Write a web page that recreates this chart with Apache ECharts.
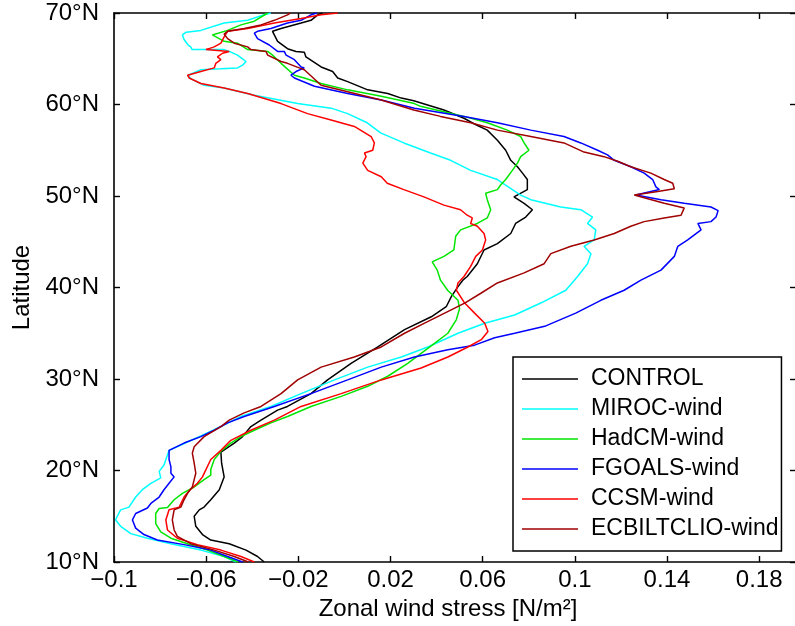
<!DOCTYPE html>
<html>
<head>
<meta charset="utf-8">
<title>Zonal wind stress profiles</title>
<script src="https://cdn.jsdelivr.net/npm/echarts@6.0.0/dist/echarts.min.js"></script>
<style>
html, body { margin: 0; padding: 0; background: #fff; }
#chart { width: 795px; height: 626px; }
</style>
</head>
<body>
<div id="chart"></div>
<script>
// zonal wind stress profiles, points are [stress N/m2, latitude]
const seriesNames = ['CONTROL', 'MIROC-wind', 'HadCM-wind', 'FGOALS-wind', 'CCSM-wind', 'ECBILTCLIO-wind']

const control = [[-0.0348,10],[-0.0377,10.6],[-0.0427,11.3],[-0.050,12.0],[-0.058,12.4],[-0.0616,13.0],[-0.0645,13.9],[-0.0652,15.0],[-0.063,15.7],[-0.0609,16.0],[-0.058,16.8],[-0.0543,17.9],[-0.0522,19.3],[-0.0533,20.8],[-0.0536,22.0],[-0.0478,23.0],[-0.0442,23.7],[-0.0406,24.8],[-0.0362,25.5],[-0.029,26.6],[-0.0247,27.0],[-0.0145,28.4],[-0.0073,29.9],[0.0029,31.7],[0.0145,33.5],[0.0261,35.4],[0.0377,36.8],[0.0442,37.9],[0.0464,39.0],[0.0493,40.1],[0.0514,40.8],[0.0533,41.2],[0.0577,42.6],[0.0606,44.1],[0.0664,44.8],[0.0722,45.9],[0.0743,47.0],[0.0787,47.7],[0.0816,48.5],[0.078,49.2],[0.0736,49.9],[0.0794,50.7],[0.0794,51.8],[0.0773,52.5],[0.0751,53.2],[0.0722,53.9],[0.07,55.0],[0.0664,56.1],[0.062,57.2],[0.0562,57.9],[0.0519,58.5],[0.0432,59.4],[0.0301,60.4],[0.0247,60.7],[0.0188,61.2],[0.0101,61.6],[0.0014,62.5],[-0.0029,62.9],[-0.0051,63.6],[-0.0101,64.1],[-0.0167,65.2],[-0.0174,65.7],[-0.021,65.8],[-0.0247,66.1],[-0.029,66.9],[-0.0312,68.0],[-0.0275,68.3],[-0.0188,68.9],[-0.0145,69.2],[-0.0116,69.8],[-0.0096,70]]

const miroc = [[-0.047,10],[-0.0522,10.6],[-0.0623,11.3],[-0.0753,12.0],[-0.0855,12.6],[-0.0927,13.1],[-0.0971,13.9],[-0.0993,14.6],[-0.0986,15.0],[-0.0971,15.7],[-0.0935,16.0],[-0.0906,17.1],[-0.0877,17.9],[-0.084,18.6],[-0.0797,19.2],[-0.0804,19.9],[-0.0783,20.6],[-0.0768,21.7],[-0.0761,22.2],[-0.07,22.9],[-0.063,23.7],[-0.057,24.4],[-0.0513,25.1],[-0.0449,25.9],[-0.0319,27.0],[-0.0188,28.4],[-0.0043,29.9],[0.0101,31.3],[0.0247,32.4],[0.0362,33.5],[0.0493,35.0],[0.0609,36.1],[0.0739,37.0],[0.0852,38.3],[0.0961,39.7],[0.1012,41.2],[0.1055,42.6],[0.107,43.7],[0.104,44.5],[0.1084,45.2],[0.1091,46.3],[0.1055,47.0],[0.1077,47.7],[0.1026,48.5],[0.0939,48.8],[0.0809,49.6],[0.0765,50.1],[0.0729,50.7],[0.0664,51.8],[0.0548,52.8],[0.0461,53.9],[0.0374,54.7],[0.0258,55.8],[0.0157,56.9],[0.0099,58.0],[0.0014,59.0],[-0.0058,59.6],[-0.0203,60.1],[-0.0391,61.0],[-0.0522,61.8],[-0.0609,62.1],[-0.0665,62.8],[-0.0678,63.2],[-0.0623,63.8],[-0.0539,63.9],[-0.0464,64.0],[-0.0442,64.3],[-0.0427,64.7],[-0.0448,65.1],[-0.0464,65.4],[-0.05,65.8],[-0.0522,66.0],[-0.0609,66.0],[-0.0661,66.0],[-0.0667,66.3],[-0.0678,66.5],[-0.0696,67.1],[-0.0703,67.6],[-0.0687,67.9],[-0.0623,68.1],[-0.0522,68.9],[-0.042,69.2],[-0.0348,69.8],[-0.0319,70]]

const hadcm = [[-0.0461,10],[-0.0522,10.6],[-0.0594,11.3],[-0.0681,12.0],[-0.0753,12.6],[-0.0797,13.3],[-0.0819,14.2],[-0.0819,15.3],[-0.0804,15.85],[-0.0768,15.95],[-0.0739,16.8],[-0.0703,17.5],[-0.0652,18.2],[-0.0609,19.0],[-0.058,19.5],[-0.058,20.1],[-0.0565,21.2],[-0.0536,22.1],[-0.0493,23.0],[-0.0449,23.7],[-0.0391,24.4],[-0.0319,25.2],[-0.0247,25.9],[-0.0145,27.0],[-0.0014,28.1],[0.0101,29.2],[0.0188,30.3],[0.0275,31.7],[0.0333,32.8],[0.0391,33.9],[0.0449,35.0],[0.0486,36.5],[0.05,37.7],[0.0493,38.6],[0.0448,39.7],[0.0417,40.8],[0.0403,41.9],[0.0381,42.8],[0.0432,43.4],[0.0475,44.1],[0.0483,45.6],[0.0504,46.3],[0.0577,47.0],[0.062,47.6],[0.0635,48.5],[0.062,49.6],[0.0613,50.3],[0.0664,50.7],[0.0678,51.2],[0.07,51.8],[0.0729,52.8],[0.0751,53.6],[0.0765,54.3],[0.0801,55.0],[0.078,55.8],[0.0765,56.5],[0.0707,57.2],[0.062,58.0],[0.0519,58.7],[0.033,59.8],[0.0304,60.1],[0.016,60.9],[0.0014,61.6],[-0.0101,62.3],[-0.0174,62.9],[-0.0217,63.2],[-0.0275,64.5],[-0.0312,65.4],[-0.0333,65.8],[-0.042,66.0],[-0.0464,66.7],[-0.0522,66.9],[-0.0573,67.6],[-0.0565,67.7],[-0.0507,68.1],[-0.0449,68.7],[-0.0391,69.1],[-0.0333,70]]

const fgoals = [[-0.0442,10],[-0.0507,10.6],[-0.058,11.3],[-0.0696,11.9],[-0.0812,12.4],[-0.087,13.0],[-0.0906,13.7],[-0.092,14.6],[-0.0906,15.3],[-0.0855,15.9],[-0.084,16.4],[-0.0804,17.1],[-0.0783,17.9],[-0.0761,18.6],[-0.0739,19.3],[-0.0753,19.7],[-0.0753,20.4],[-0.0761,21.2],[-0.0761,22.2],[-0.0696,23.0],[-0.0623,23.7],[-0.0565,24.4],[-0.0507,25.2],[-0.0435,25.9],[-0.0304,27.0],[-0.0145,28.4],[0.0014,29.9],[0.016,31.3],[0.0304,32.4],[0.0449,33.2],[0.0565,33.7],[0.0652,34.5],[0.0739,35.0],[0.0874,35.8],[0.1004,37.2],[0.1113,38.6],[0.1214,39.7],[0.1287,40.8],[0.1374,41.9],[0.1432,43.4],[0.1447,44.5],[0.149,45.2],[0.1548,46.3],[0.1534,47.0],[0.1591,47.2],[0.1613,47.7],[0.1622,48.4],[0.1591,48.8],[0.1475,49.2],[0.1374,49.6],[0.1265,50.1],[0.1367,50.7],[0.1352,51.0],[0.1338,51.8],[0.1301,52.5],[0.1243,53.2],[0.1171,53.9],[0.1142,54.5],[0.1099,55.0],[0.1026,55.8],[0.0953,56.5],[0.0809,57.2],[0.0664,58.0],[0.0519,58.7],[0.0304,59.6],[0.016,60.5],[0.0014,61.2],[-0.013,62.0],[-0.0217,62.9],[-0.0232,63.2],[-0.021,63.6],[-0.0174,64.0],[-0.0188,64.1],[-0.0217,64.9],[-0.0253,65.4],[-0.0261,65.8],[-0.029,65.8],[-0.0326,66.5],[-0.0377,67.2],[-0.0391,67.8],[-0.0377,68.0],[-0.0319,68.3],[-0.0247,68.9],[-0.0188,69.2],[-0.0145,69.8],[-0.0119,70]]

const ccsm = [[-0.0391,10],[-0.0449,10.6],[-0.0536,11.3],[-0.0638,11.9],[-0.0725,12.6],[-0.0768,13.5],[-0.0775,14.6],[-0.0761,15.7],[-0.0717,16.0],[-0.0696,17.1],[-0.067,17.9],[-0.0638,18.6],[-0.0616,19.3],[-0.0601,20.1],[-0.058,21.2],[-0.0536,22.2],[-0.0493,23.3],[-0.0406,24.4],[-0.0304,25.5],[-0.0188,27.0],[-0.0014,28.4],[0.016,29.9],[0.0333,31.2],[0.0449,32.4],[0.0536,33.5],[0.0594,34.3],[0.0623,35.2],[0.0609,36.1],[0.0565,37.2],[0.0522,38.3],[0.0486,39.7],[0.0493,40.5],[0.0519,41.2],[0.0548,42.3],[0.057,43.4],[0.0599,44.1],[0.0613,45.2],[0.0606,45.9],[0.0577,46.7],[0.0548,47.0],[0.0555,47.6],[0.0533,47.9],[0.0504,48.5],[0.0432,49.0],[0.0345,49.9],[0.0258,50.7],[0.0186,51.4],[0.016,52.1],[0.0101,52.8],[0.008,53.6],[0.0094,54.3],[0.0087,54.7],[0.0123,55.0],[0.013,55.8],[0.0116,56.5],[0.0043,57.6],[-0.0058,58.3],[-0.016,59.0],[-0.0275,60.1],[-0.042,61.2],[-0.0522,61.8],[-0.0623,62.3],[-0.0674,62.9],[-0.0681,63.2],[-0.0623,63.6],[-0.0565,64.0],[-0.0558,64.5],[-0.0536,64.9],[-0.0551,65.2],[-0.0529,65.6],[-0.05,65.8],[-0.05,66.0],[-0.0601,66.0],[-0.0565,66.3],[-0.0536,66.7],[-0.0522,67.4],[-0.0507,68.0],[-0.042,68.3],[-0.0304,68.9],[-0.0188,69.4],[-0.0101,69.8],[-0.0029,70]]

const ecbilt = [[-0.0417,10],[-0.0478,10.6],[-0.0565,11.3],[-0.0667,12.0],[-0.0725,12.8],[-0.0739,13.5],[-0.0747,14.6],[-0.0739,15.7],[-0.071,16.0],[-0.0696,16.8],[-0.0681,17.5],[-0.066,18.2],[-0.0652,19.0],[-0.0645,19.7],[-0.0652,20.8],[-0.066,21.9],[-0.0652,22.6],[-0.0609,23.7],[-0.0536,24.8],[-0.05,25.5],[-0.0435,26.3],[-0.0362,27.0],[-0.0275,28.4],[-0.0203,29.9],[-0.0101,31.3],[0.0043,32.4],[0.016,33.5],[0.0261,35.0],[0.0348,36.1],[0.0435,37.2],[0.0522,38.3],[0.0594,39.4],[0.0664,40.5],[0.078,41.6],[0.0867,42.6],[0.0896,43.7],[0.0983,44.5],[0.1084,45.2],[0.1171,45.9],[0.1243,46.7],[0.1301,47.2],[0.1388,47.6],[0.1461,47.9],[0.1475,48.7],[0.1388,49.2],[0.1301,49.8],[0.1258,50.1],[0.136,50.5],[0.1432,50.8],[0.1425,51.4],[0.1388,51.8],[0.133,52.5],[0.1243,53.2],[0.1186,53.8],[0.1127,54.3],[0.104,54.8],[0.0953,55.8],[0.0809,56.5],[0.0664,57.2],[0.0548,58.0],[0.0417,58.7],[0.0301,59.4],[0.016,60.5],[0.0014,61.4],[-0.0101,62.1],[-0.0174,63.8],[-0.0196,64.0],[-0.0247,64.5],[-0.0275,64.7],[-0.0333,65.4],[-0.034,65.8],[-0.0406,66.0],[-0.042,66.3],[-0.0478,66.7],[-0.0507,67.2],[-0.0522,67.7],[-0.0507,68.0],[-0.0435,68.3],[-0.0362,68.7],[-0.0304,69.2],[-0.0247,69.8],[-0.0235,70]]

const allProfiles = [control, miroc, hadcm, fgoals, ccsm, ecbilt]
const lineColors = ['#000000', '#00ffff', '#00e600', '#0000ff', '#ff0000', '#a00000']

// tick labels
const xTickValues = [-0.1, -0.06, -0.02, 0.02, 0.06, 0.1, 0.14, 0.18]
const xTickLabels = ['\u22120.1', '\u22120.06', '\u22120.02', '0.02', '0.06', '0.1', '0.14', '0.18']
const latTicks = [10, 20, 30, 40, 50, 60, 70]
const latTickLabels = ['10°N', '20°N', '30°N', '40°N', '50°N', '60°N', '70°N']

const FONT = '"Liberation Sans", Arial, Helvetica, sans-serif'

const chartDom = document.getElementById('chart')
const chartInstance = echarts.init(chartDom, null, { renderer: 'canvas' })

const xLabel = (v) => {
    const i = xTickValues.findIndex(t => Math.abs(t - v) < 1e-6)
    return i < 0 ? '' : xTickLabels[i]
}
const yLabel = (v) => {
    const i = latTicks.indexOf(Math.round(v))
    return i < 0 ? '' : latTickLabels[i]
}

// axis frame like a matlab box: inner ticks on all four sides
const baseX = {
    type: 'value',
    min: -0.1,
    max: 0.196,
    interval: 0.04,
    splitLine: { show: false },
    axisLine: { show: true, onZero: false, lineStyle: { color: '#000', width: 1.6 } },
    axisTick: { show: true, inside: true, length: 6, lineStyle: { color: '#000', width: 1.4 } }
}
const baseY = {
    type: 'value',
    min: 10,
    max: 70,
    interval: 10,
    splitLine: { show: false },
    axisLine: { show: true, onZero: false, lineStyle: { color: '#000', width: 1.6 } },
    axisTick: { show: true, inside: true, length: 6, lineStyle: { color: '#000', width: 1.4 } }
}

const option = {
    animation: false,
    backgroundColor: '#fff',
    grid: { left: 114, top: 13, right: -1, bottom: 64, containLabel: false, outerBoundsMode: 'none' },
    legend: {
        data: seriesNames,
        orient: 'vertical',
        left: 513,
        top: 357,
        padding: [10, 3, 10, 9],
        icon: 'rect',
        itemWidth: 56,
        itemHeight: 1.6,
        itemGap: 6,
        borderColor: '#000',
        borderWidth: 1.5,
        backgroundColor: '#fff',
        selectedMode: false,
        textStyle: { fontFamily: FONT, fontSize: 23, color: '#000', lineHeight: 24, padding: [0, 0, 0, 8] }
    },
    xAxis: [
        Object.assign({}, baseX, {
            position: 'bottom',
            name: 'Zonal wind stress [N/m²]',
            nameLocation: 'middle',
            nameGap: 32,
            nameTextStyle: { fontFamily: FONT, fontSize: 24, color: '#000', padding: [0, 14, 0, 0] },
            axisLabel: { show: true, margin: 6, fontFamily: FONT, fontSize: 24, color: '#000', formatter: xLabel, showMaxLabel: false }
        }),
        Object.assign({}, baseX, { position: 'top', axisLabel: { show: false } })
    ],
    yAxis: [
        Object.assign({}, baseY, {
            position: 'left',
            name: 'Latitude',
            nameLocation: 'middle',
            nameGap: 80,
            nameTextStyle: { fontFamily: FONT, fontSize: 24, color: '#000' },
            axisLabel: { show: true, margin: 15, fontFamily: FONT, fontSize: 24, color: '#000', formatter: yLabel }
        }),
        Object.assign({}, baseY, { position: 'right', axisLabel: { show: false } })
    ],
    series: allProfiles.map((data, i) => ({
        name: seriesNames[i],
        type: 'line',
        xAxisIndex: 0,
        yAxisIndex: 0,
        data: data,
        symbol: 'none',
        smooth: false,
        clip: true,
        color: lineColors[i],
        lineStyle: { color: lineColors[i], width: 1.5 },
        z: 2 + i
    }))
}

chartInstance.setOption(option)
</script>
</body>
</html>
